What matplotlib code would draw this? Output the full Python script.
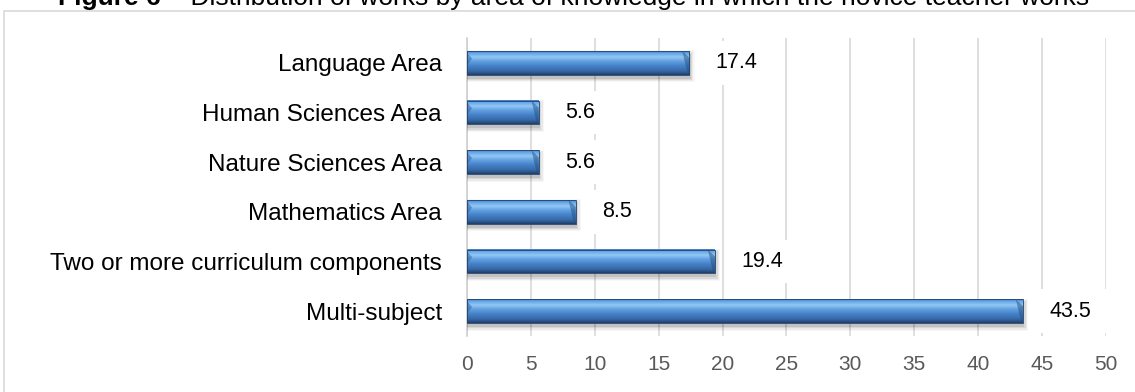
import numpy as np
import matplotlib
matplotlib.use("Agg")
import matplotlib.pyplot as plt
from matplotlib.colors import LinearSegmentedColormap
from matplotlib.patches import Rectangle, Polygon

# Data (bottom to top)
categories = [
    "Multi-subject",
    "Two or more curriculum components",
    "Mathematics Area",
    "Nature Sciences Area",
    "Human Sciences Area",
    "Language Area",
]
values = [43.5, 19.4, 8.5, 5.6, 5.6, 17.4]
value_labels = ["43.5", "19.4", "8.5", "5.6", "5.6", "17.4"]
x_ticks = [0, 5, 10, 15, 20, 25, 30, 35, 40, 45, 50]
title_bold = "Figure 6"
title_rest = " \u2013 Distribution of works by area of knowledge in which the novice teacher works"

plt.rcParams["font.family"] = ["Liberation Sans", "DejaVu Sans"]

W, H = 1135, 392
fig = plt.figure(figsize=(W / 100, H / 100), dpi=100)
fig.patch.set_facecolor("white")

# outer chart frame (runs off the right and bottom edges)
fig.add_artist(Rectangle((4 / W, -0.1), 1.2, 1 - 11 / H + 0.1,
                         transform=fig.transFigure, fill=False,
                         edgecolor="#d9d9d9", linewidth=1.2))

ax = fig.add_axes([467 / W, 1 - 336 / H, (1106 - 467) / W, (336 - 38) / H])
ax.set_facecolor("white")

y = np.arange(len(categories))
bar_h = 0.47

# vertical gradient of the bevelled bars (top -> bottom)
bar_cmap = LinearSegmentedColormap.from_list("bevel", [
    (0.00, "#3f78bf"),
    (0.08, "#63a3e6"),
    (0.25, "#93c8f5"),
    (0.42, "#62a0e2"),
    (0.62, "#4581c8"),
    (0.84, "#3668a6"),
    (0.93, "#2a5285"),
    (1.00, "#1f3d66"),
])
grad = np.linspace(0, 1, 128).reshape(-1, 1)

for yi, v in zip(y, values):
    top, bot = yi + bar_h / 2, yi - bar_h / 2
    # soft drop shadow
    for k, a in enumerate([0.10, 0.07, 0.05, 0.03]):
        d = 0.025 * (k + 1)
        ax.add_patch(Rectangle((0, bot - 0.06 - d), v + 0.12 + 0.1 * k,
                               bar_h + 2 * d - 0.02,
                               facecolor="black", alpha=a, edgecolor="none",
                               zorder=2))
    ax.imshow(grad, extent=(0, v, bot, top), aspect="auto", cmap=bar_cmap,
              interpolation="bilinear", zorder=3)
    bx, by = 0.55, 0.13
    # right-end bevel face
    ax.add_patch(Polygon([(v - bx, top), (v, top - by), (v, bot), (v - 0.15, bot + 0.03)],
                         closed=True, facecolor="#24507f", alpha=0.5,
                         edgecolor="none", zorder=4))
    # left-top bevel corner
    ax.add_patch(Polygon([(0, top - 0.03), (0.4, top - by - 0.02), (0, top - 2.2 * by)],
                         closed=True, facecolor="#2f5f9c", alpha=0.5,
                         edgecolor="none", zorder=4))
    ax.add_patch(Rectangle((0, bot), v, bar_h, fill=False,
                           edgecolor="#22426c", linewidth=0.6, zorder=4))

ax.set_xlim(0, 50)
ax.set_ylim(-0.5, len(categories) - 0.5)
ax.set_xticks(x_ticks)
ax.set_xticklabels([str(t) for t in x_ticks])
ax.set_yticks(y)
ax.set_yticklabels(categories)
ax.tick_params(axis="x", length=0, pad=14, labelsize=15, labelcolor="#595959")
ax.tick_params(axis="y", length=0, pad=18, labelsize=17.5, labelcolor="black")
ax.set_axisbelow(True)
ax.grid(axis="x", color="#d9d9d9", linewidth=1.2, zorder=0)
for side in ("top", "right", "bottom"):
    ax.spines[side].set_visible(False)
ax.spines["left"].set_color("#d0d0d0")
ax.spines["left"].set_linewidth(1.2)
ax.spines["left"].set_zorder(1)

# value labels sitting on white boxes that hide the gridlines
texts = []
for yi, v, lab in zip(y, values, value_labels):
    t = ax.text(v + 2.05, yi, lab, ha="left", va="center", fontsize=15.5,
                color="black", zorder=6)
    texts.append((yi, t))

fig.canvas.draw()
r = fig.canvas.get_renderer()
inv = ax.transData.inverted()
px = 50 / (1106 - 467)
for yi, t in texts:
    bb = t.get_window_extent(renderer=r)
    x0 = inv.transform((bb.x0, 0))[0] - 12 * px
    x1 = inv.transform((bb.x1, 0))[0] + 17 * px
    ax.add_patch(Rectangle((x0, yi - 0.44), x1 - x0, 0.88, facecolor="white",
                           edgecolor="none", zorder=1.5))

# title: bold figure number followed by regular text
ty = 1 - 5 / H
t1 = fig.text(58 / W, ty, title_bold, fontsize=19, fontweight="bold",
              ha="left", va="baseline")
fig.canvas.draw()
bb1 = t1.get_window_extent(renderer=r)
fig.text(bb1.x1 / W, ty, title_rest, fontsize=19, ha="left", va="baseline")

fig.savefig("out.png", dpi=100, facecolor="white")
